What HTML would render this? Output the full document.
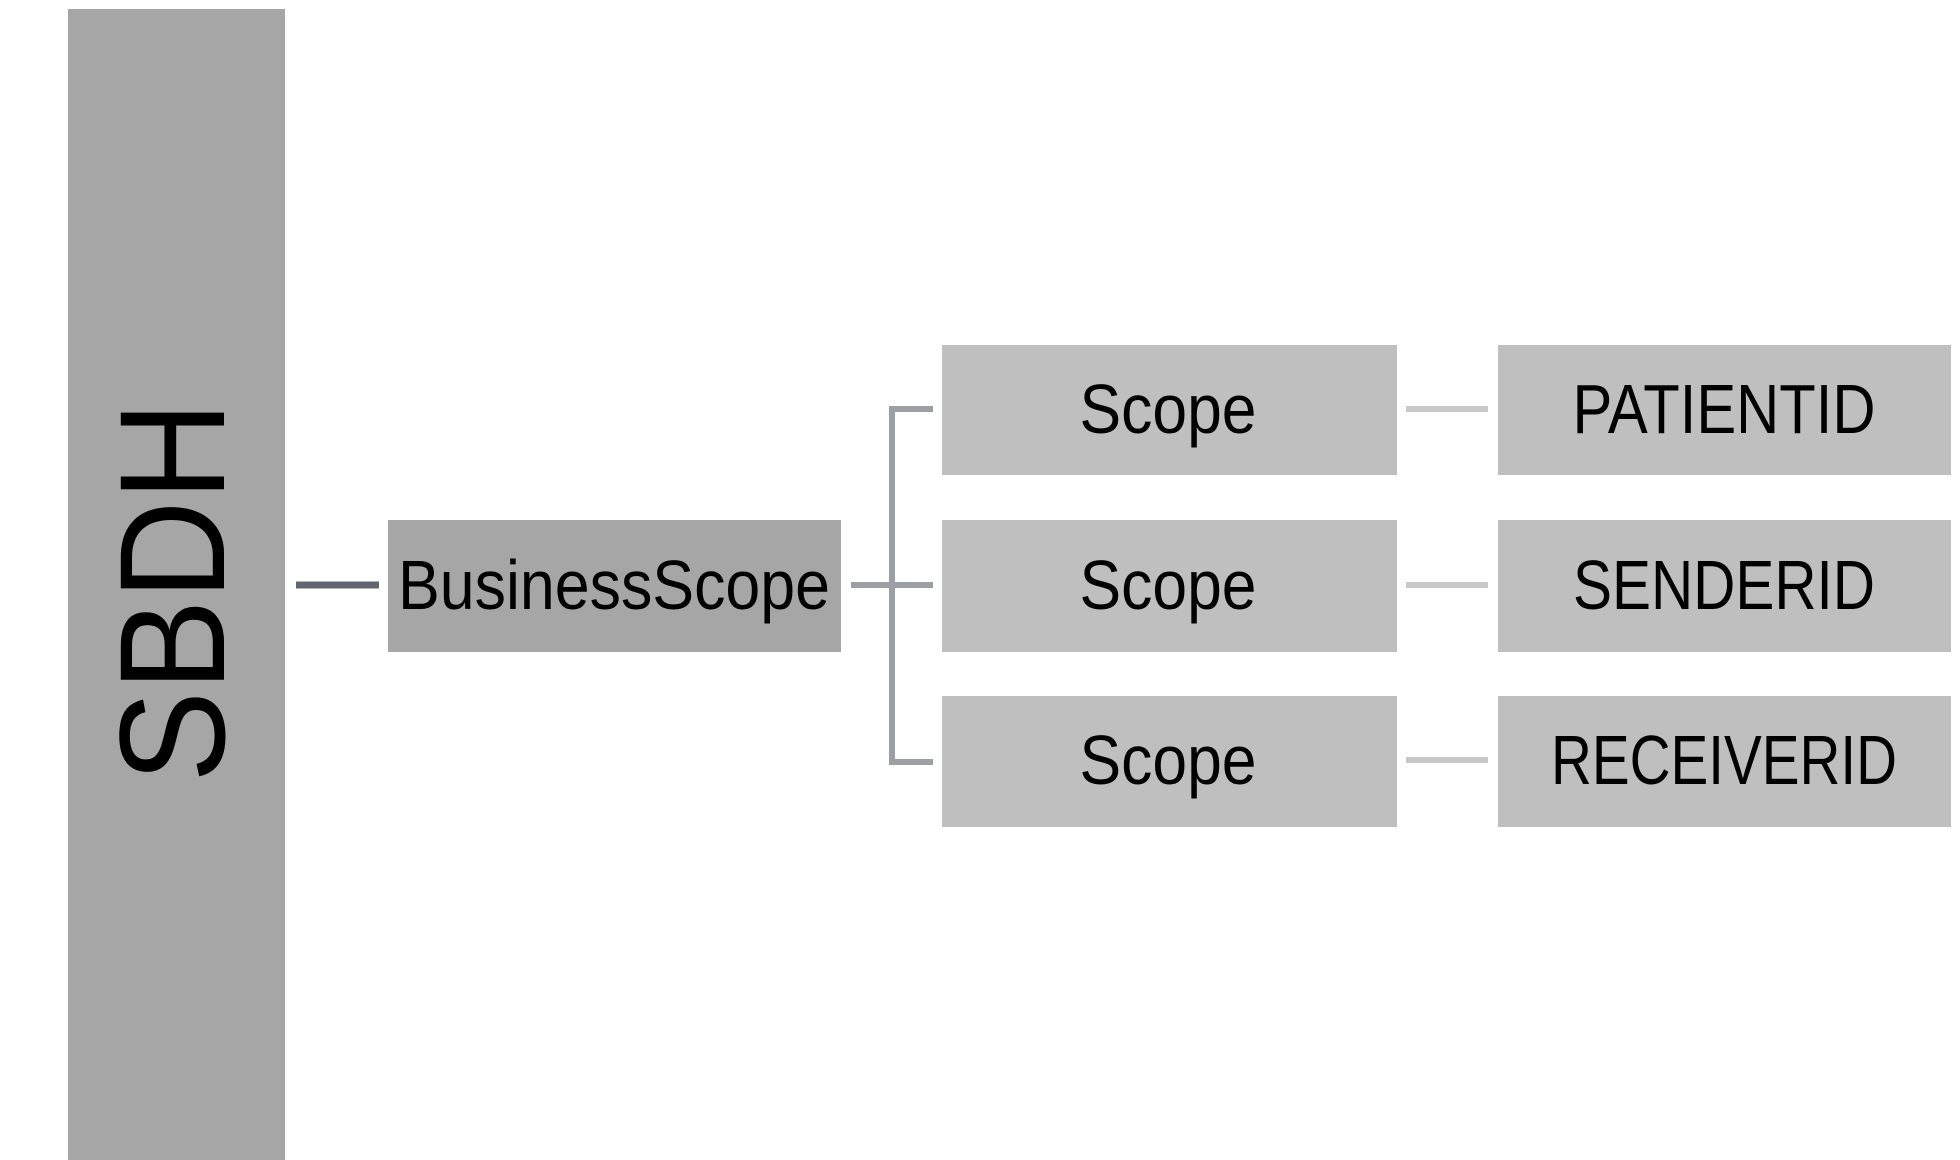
<!DOCTYPE html>
<html><head><style>html,body{margin:0;padding:0;background:#fff}</style></head>
<body>
<svg width="1960" height="1160" xmlns="http://www.w3.org/2000/svg" style="display:block">
<rect x="68" y="9" width="217" height="1151" fill="#a6a6a6"/>
<text x="0" y="0" transform="translate(172,592) rotate(-90)" font-family="Liberation Sans, sans-serif" font-size="150" text-anchor="middle" dominant-baseline="central" textLength="381" lengthAdjust="spacingAndGlyphs">SBDH</text>
<line x1="296" y1="585" x2="379" y2="585" stroke="#5f6670" stroke-width="7"/>
<rect x="388" y="520" width="453" height="132" fill="#a6a6a6"/>
<text x="614" y="585" font-family="Liberation Sans, sans-serif" font-size="70" text-anchor="middle" dominant-baseline="central" textLength="432" lengthAdjust="spacingAndGlyphs">BusinessScope</text>
<g stroke="#9aa0a6" stroke-width="6" fill="none">
<polyline points="933,409 892,409 892,762 933,762"/>
<line x1="851" y1="585" x2="933" y2="585"/>
</g>
<g fill="#bfbfbf">
<rect x="942" y="345" width="455" height="130"/>
<rect x="942" y="520" width="455" height="132"/>
<rect x="942" y="696" width="455" height="131"/>
<rect x="1498" y="345" width="453" height="130"/>
<rect x="1498" y="520" width="453" height="132"/>
<rect x="1498" y="696" width="453" height="131"/>
</g>
<g stroke="#c8c8c8" stroke-width="6">
<line x1="1406" y1="409" x2="1488" y2="409"/>
<line x1="1406" y1="585" x2="1488" y2="585"/>
<line x1="1406" y1="760" x2="1488" y2="760"/>
</g>
<g font-family="Liberation Sans, sans-serif" font-size="70" text-anchor="middle" dominant-baseline="central" lengthAdjust="spacingAndGlyphs">
<text x="1168" y="409" textLength="177" lengthAdjust="spacingAndGlyphs">Scope</text>
<text x="1168" y="585" textLength="177" lengthAdjust="spacingAndGlyphs">Scope</text>
<text x="1168" y="760" textLength="177" lengthAdjust="spacingAndGlyphs">Scope</text>
<text x="1724" y="409" textLength="303" lengthAdjust="spacingAndGlyphs">PATIENTID</text>
<text x="1724" y="585" textLength="302" lengthAdjust="spacingAndGlyphs">SENDERID</text>
<text x="1724" y="760" textLength="346" lengthAdjust="spacingAndGlyphs">RECEIVERID</text>
</g>
</svg>
</body></html>
